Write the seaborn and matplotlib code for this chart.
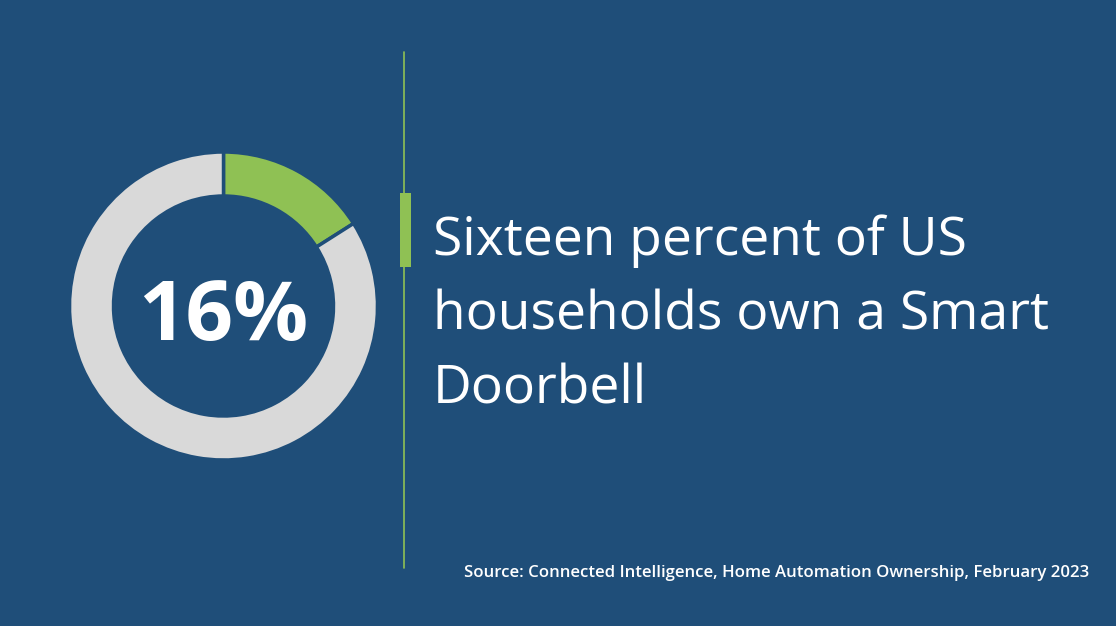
import matplotlib
matplotlib.use('Agg')
import matplotlib.pyplot as plt
import seaborn as sns

# Data
labels = ['Own a Smart Doorbell', 'Do not own']
shares = [16, 84]
headline = '16%'
text_lines = ['Sixteen percent of US', 'households own a Smart', 'Doorbell']
source = 'Source: Connected Intelligence, Home Automation Ownership, February 2023'

# Colours
BG = '#1F4E79'
GREEN = '#8FC154'
GREY = '#D9D9D9'

sns.set_theme(style='white')
plt.rcParams['font.family'] = ['Open Sans', 'DejaVu Sans']

W, H = 1116, 626
fig = plt.figure(figsize=(W / 100, H / 100), dpi=100, facecolor=BG)

def px(x, y):
    # pixel coords (from top-left) -> figure fraction
    return x / W, 1 - y / H

# Donut
cx, cy, r = 223.5, 306, 154
ax = fig.add_axes([(cx - r) / W, (H - cy - r) / H, 2 * r / W, 2 * r / H])
ax.set_facecolor(BG)
ax.pie(shares, colors=[GREEN, GREY], startangle=90, counterclock=False, radius=1,
       wedgeprops=dict(width=44 / 154, edgecolor=BG, linewidth=2.5))
ax.set_xlim(-1, 1)
ax.set_ylim(-1, 1)
ax.set_aspect('equal')
ax.axis('off')
ax.text(0, (cy - 340) / r, headline, ha='center', va='baseline', fontsize=60,
        fontweight='bold', color='white')

# Divider line and accent bar
fig.add_artist(plt.Line2D([404 / W, 404 / W], [1 - 52 / H, 1 - 568 / H], color=GREEN, lw=1.2))
fig.add_artist(plt.Rectangle(px(400, 267), 11 / W, 74 / H, color=GREEN, lw=0))

# Headline text
for line, yb in zip(text_lines, [255, 330, 404]):
    x, y = px(433, yb)
    fig.text(x, y, line, ha='left', va='baseline', fontsize=38.4, color='white')

x, y = px(1089, 577)
fig.text(x, y, source, ha='right', va='baseline', fontsize=12.1, fontweight='semibold', color='white')

fig.savefig('out.png', dpi=100, facecolor=BG)
